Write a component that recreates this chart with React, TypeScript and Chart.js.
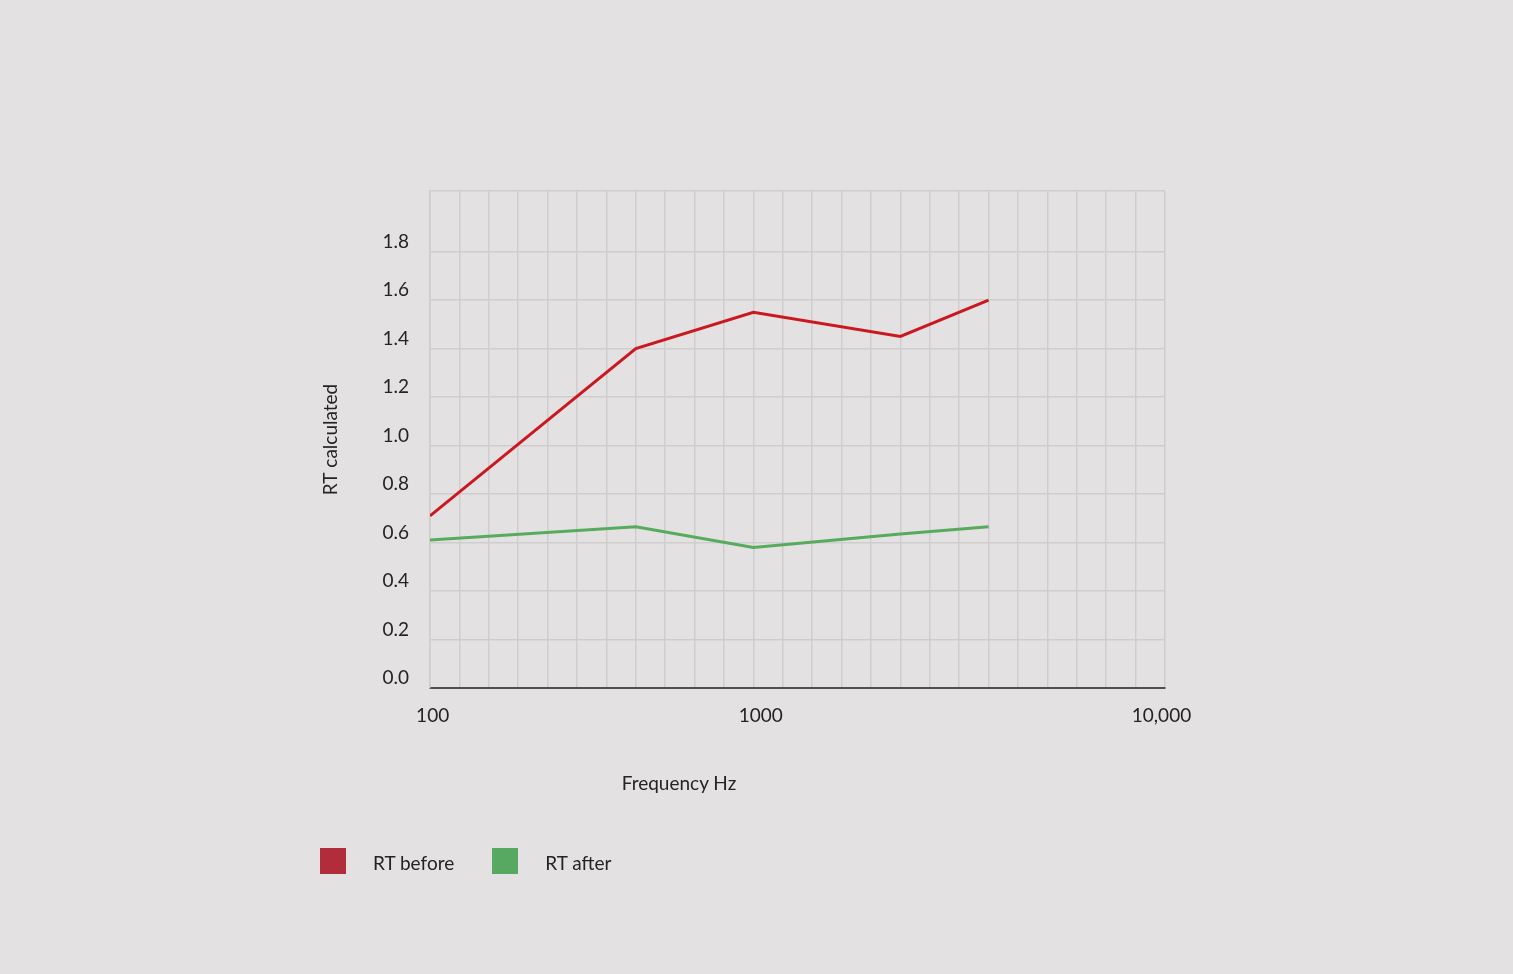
import { useEffect, useRef } from "react";
import { Chart, registerables } from "chart.js";

Chart.register(...registerables);

// grid units along the frequency axis (the picture's grid is evenly spaced)
const gridSteps = 25;
const freqLabels = ["100", "1000", "10,000"];
const freqLabelPos = [0.09, 11.25, 24.88];

// measured bands, placed on the grid
const bandPos = [0, 7, 11, 16, 19];
const rtBefore = [0.71, 1.4, 1.55, 1.45, 1.6];
const rtAfter = [0.61, 0.665, 0.58, 0.635, 0.665];

const yTicks = [0, 0.2, 0.4, 0.6, 0.8, 1.0, 1.2, 1.4, 1.6, 1.8];
const yMax = 2.05;

const seriesNames = ["RT before", "RT after"];
const lineColors = ["#cb1820", "#58ab5d"];
const swatchColors = ["#b12d3c", "#57a962"];

const FONT = "Lato, 'Noto Sans', sans-serif";
const TEXT = "#242424";
const GRID = "#cfcdcd";
const BG = "#e3e1e1";

function RTChart() {
  const canvasRef = useRef<HTMLCanvasElement | null>(null);

  useEffect(() => {
    const canvas = canvasRef.current;
    if (!canvas) return;

    const gridTicks = Array.from({ length: gridSteps + 1 }, (_, i) => i);
    const isGrid = (v: number) => Number.isInteger(v);

    const chart = new Chart(canvas, {
      type: "line",
      data: {
        datasets: [rtBefore, rtAfter].map((vals, i) => ({
          label: seriesNames[i],
          data: vals.map((y, j) => ({ x: bandPos[j], y })),
          borderColor: lineColors[i],
          backgroundColor: lineColors[i],
          borderWidth: 3,
          pointRadius: 0,
          tension: 0,
        })),
      },
      options: {
        animation: false,
        responsive: true,
        maintainAspectRatio: false,
        layout: { padding: { left: 300, right: 348, top: 191, bottom: 226 } },
        plugins: {
          legend: { display: false },
          tooltip: { enabled: false },
        },
        scales: {
          x: {
            type: "linear",
            min: 0,
            max: gridSteps,
            afterBuildTicks: (scale) => {
              scale.ticks = [...gridTicks, ...freqLabelPos]
                .sort((a, b) => a - b)
                .map((value) => ({ value }));
            },
            afterFit: (scale) => {
              scale.height = 60;
            },
            grid: {
              color: (ctx) => (isGrid(ctx.tick.value) ? GRID : "rgba(0,0,0,0)"),
              lineWidth: 1.5,
              drawTicks: false,
            },
            border: { color: "#4f4f4f", width: 2 },
            ticks: {
              autoSkip: false,
              maxRotation: 0,
              padding: 16,
              color: TEXT,
              font: { family: FONT, size: 19 },
              callback: (v) => {
                const k = freqLabelPos.indexOf(Number(v));
                return k >= 0 ? freqLabels[k] : "";
              },
            },
          },
          y: {
            min: 0,
            max: yMax,
            afterBuildTicks: (scale) => {
              scale.ticks = [...yTicks, yMax].map((value) => ({ value }));
            },
            afterFit: (scale) => {
              scale.width = 130;
            },
            grid: { color: GRID, lineWidth: 1.5, drawTicks: false },
            border: { color: GRID, width: 1.5 },
            ticks: {
              padding: 21,
              labelOffset: -10,
              color: TEXT,
              font: { family: FONT, size: 19 },
              callback: (v) => (Number(v) >= yMax ? "" : Number(v).toFixed(1)),
            },
            title: {
              display: true,
              text: "RT calculated",
              color: TEXT,
              font: { family: FONT, size: 19 },
              padding: { top: 19, bottom: 0 },
            },
          },
        },
      },
    });

    return () => {
      chart.destroy();
    };
  }, []);

  return <canvas ref={canvasRef}></canvas>;
}

export default function App() {
  return (
    <div
      style={{
        position: "absolute",
        left: 0,
        top: 0,
        width: 1513,
        height: 974,
        background: BG,
        fontFamily: FONT,
        color: TEXT,
      }}
    >
      <div style={{ position: "absolute", left: 0, top: 0, width: 1513, height: 974 }}>
        <RTChart />
      </div>
      <div
        style={{
          position: "absolute",
          left: 679,
          top: 772,
          transform: "translateX(-50%)",
          fontSize: 19,
          lineHeight: "22px",
          whiteSpace: "nowrap",
        }}
      >
        Frequency Hz
      </div>
      <div
        style={{
          position: "absolute",
          left: 320,
          top: 848,
          display: "flex",
          alignItems: "center",
          fontSize: 19,
          lineHeight: "26px",
        }}
      >
        {seriesNames.map((name, i) => (
          <div key={name} style={{ display: "flex", alignItems: "center", marginRight: 38 }}>
            <span
              style={{
                display: "inline-block",
                width: 26,
                height: 26,
                background: swatchColors[i],
                marginRight: 27,
              }}
            />
            <span style={{ position: "relative", top: 2 }}>{name}</span>
          </div>
        ))}
      </div>
    </div>
  );
}
